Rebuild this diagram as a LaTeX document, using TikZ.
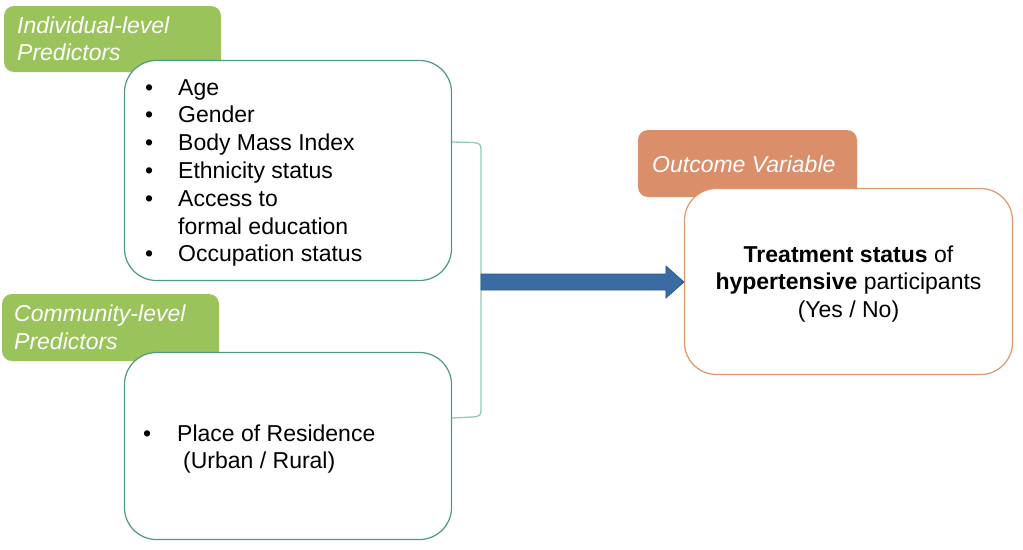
\documentclass[tikz,border=0pt]{standalone}
\usepackage{fontspec}
\setmainfont{Liberation Sans}
\usetikzlibrary{calc}
\definecolor{lblgreen}{HTML}{9BC35B}
\definecolor{lblorange}{HTML}{DA8E6A}
\definecolor{boxteal}{HTML}{4F9A80}
\definecolor{brkteal}{HTML}{94C8B8}
\definecolor{boxorange}{HTML}{E0966E}
\definecolor{arrblue}{HTML}{3A6BA3}
\definecolor{arrdark}{HTML}{2E5A8A}
\begin{document}
\begin{tikzpicture}[x=1pt,y=-1pt,
  labelbox/.style={fill=#1, rounded corners=10pt, inner sep=0pt, draw=none},
  varbox/.style={fill=white, draw=#1, line width=1.2pt, rounded corners=32pt, inner sep=0pt},
  itemtext/.style={anchor=base west, inner sep=0pt, font=\fontsize{23}{27.8}\selectfont},
  labeltext/.style={anchor=base west, inner sep=0pt, text=white, font=\fontsize{23}{27.5}\selectfont\itshape},
  centertext/.style={anchor=base, inner sep=0pt, font=\fontsize{23}{27.5}\selectfont}]
\useasboundingbox (0,0) rectangle (1023,549);
\fill[white] (0,0) rectangle (1023,549);
% labels
\node[labelbox=lblgreen, minimum width=217pt, minimum height=66pt] (lab1) at (112.5,39) {};
\node[labelbox=lblgreen, minimum width=217pt, minimum height=67pt] (lab2) at (110.5,327.5) {};
\node[labelbox=lblorange, minimum width=219pt, minimum height=67pt] (lab3) at (747.5,163.5) {};
\node[labeltext] (lab1t) at (17,33) {\begin{tabular}[t]{@{}l@{}}Individual-level\\Predictors\end{tabular}};
\node[labeltext] (lab2t) at (14,321.5) {\begin{tabular}[t]{@{}l@{}}Community-level\\Predictors\end{tabular}};
\node[labeltext] (lab3t) at (652,172) {Outcome Variable};
% boxes
\node[varbox=boxteal, minimum width=327pt, minimum height=220pt] (box1) at (288,170.5) {};
\node[varbox=boxteal, minimum width=327pt, minimum height=187pt] (box2) at (288,446) {};
\node[varbox=boxorange, minimum width=328pt, minimum height=186pt] (box3) at (848.5,281.5) {};
% texts
\node[itemtext] (items1) at (145,95) {\begin{tabular}[t]{@{}p{33pt}@{}l@{}}
•&Age\\
•&Gender\\
•&Body Mass Index\\
•&Ethnicity status\\
•&Access to\\
&formal education\\
•&Occupation status\end{tabular}};
\node[itemtext] (items2) at (143,441) {\begin{tabular}[t]{@{}p{34pt}@{}l@{}}
•&Place of Residence\\
&\hspace{6pt}(Urban / Rural)\end{tabular}};
\node[centertext] (out) at (848.5,262) {\begin{tabular}[t]{@{}c@{}}
\textbf{Treatment status} of\\
\textbf{hypertensive} participants\\
(Yes / No)\end{tabular}};
% bracket
\coordinate (brtop) at (452,142);
\coordinate (brbot) at (452,418);
\coordinate (brk) at (481,282);
\draw[brkteal, line width=1.3pt] (brtop) -- (473,142.5) .. controls (479,143) and (481,144) .. (481,149)
  -- (481,411) .. controls (481,415) and (479,416.5) .. (473,417) -- (brbot);
% arrow
\path[fill=arrblue, draw=arrdark, line width=0.8pt] let \p1=(brk), \p2=(box3.west) in
  (\x1,\y1-8pt) -- (\x2-18pt,\y1-8pt) -- (\x2-18pt,\y1-16pt) -- (\x2,\y1)
  -- (\x2-18pt,\y1+16pt) -- (\x2-18pt,\y1+8pt) -- (\x1,\y1+8pt) -- cycle;
\end{tikzpicture}
\end{document}
